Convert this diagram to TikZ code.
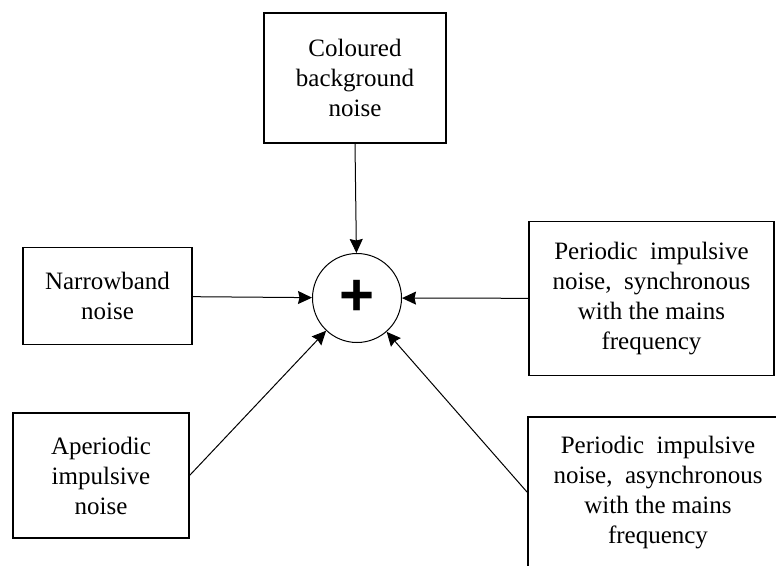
\documentclass[tikz,border=0pt]{standalone}
\usepackage{fontspec}
\setmainfont{Liberation Serif}
\newfontfamily\plusfont{Liberation Sans}
\usetikzlibrary{arrows.meta, positioning}

\begin{document}
\begin{tikzpicture}[x=1pt, y=-1pt, every node/.style={font=\fontsize{25}{30}\selectfont},
    >={Stealth[length=14pt, width=13pt, inset=1.5pt]},
    noisebox/.style={draw, line width=1.1pt, align=center, inner sep=0pt}]
  \useasboundingbox (0,0) rectangle (776,565);
  \clip (0,0) rectangle (776,565);

  % summing junction in the middle
  \node[draw, circle, line width=1pt, minimum size=89pt, inner sep=0pt,
        font=\plusfont\bfseries\fontsize{60}{60}\selectfont] (sum) at (357,298) {+};

  % noise sources
  \node[noisebox, minimum width=182pt, minimum height=130pt] (cbn) at (355,78) {Coloured\\background\\noise};
  \node[noisebox, minimum width=169pt, minimum height=97pt] (nb) at (107.5,296) {Narrowband\\noise};
  \node[noisebox, minimum width=245pt, minimum height=154pt] (ps) at (651.5,298.5) {Periodic\ \ impulsive\\noise,\ \ synchronous\\with the mains\\frequency};
  \node[noisebox, minimum width=176pt, minimum height=125pt] (ai) at (101,475.5) {Aperiodic\\impulsive\\noise};
  \node[noisebox, minimum width=260pt, minimum height=151pt] (pa) at (658,492.5) {Periodic\ \ impulsive\\noise,\ \ asynchronous\\with the mains\\frequency};

  % everything goes into the sum
  \draw[->, line width=1pt] (cbn.south) -- (sum);
  \draw[->, line width=1pt] (nb) -- (sum);
  \draw[->, line width=1pt] (ps) -- (sum);
  \draw[->, line width=1pt] (ai.east) -- (sum);
  \draw[->, line width=1pt] (pa.west) -- (sum);
\end{tikzpicture}
\end{document}
